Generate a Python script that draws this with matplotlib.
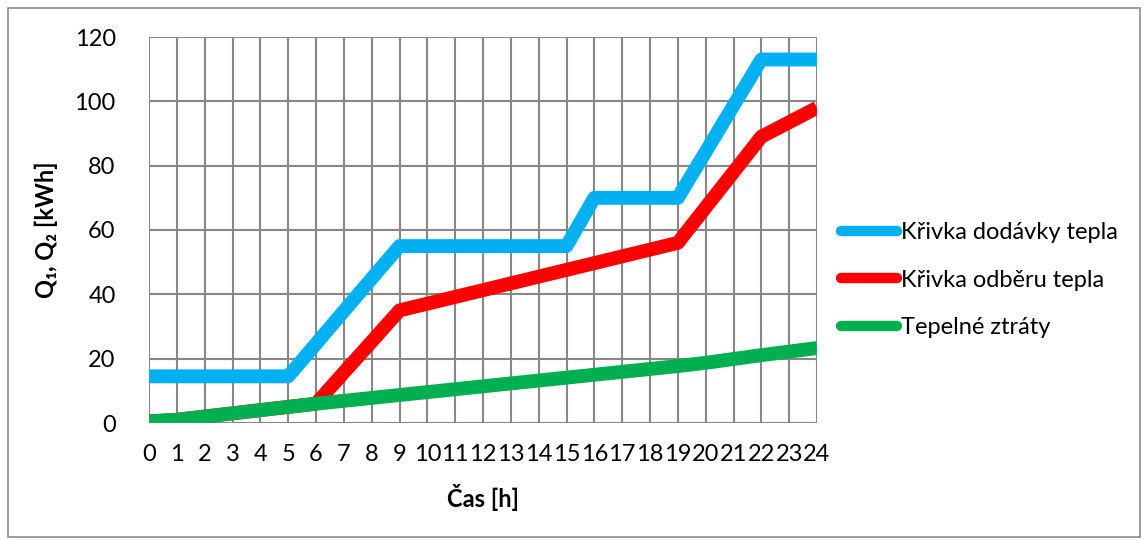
import matplotlib
matplotlib.use("Agg")
import matplotlib.pyplot as plt
from matplotlib.patches import Rectangle

plt.rcParams["font.family"] = ["Lato", "DejaVu Sans"]

hours = list(range(25))

# heat supply, heat demand and heat losses [kWh]
supply = [14.5, 14.5, 14.5, 14.5, 14.5, 14.5, 24.6, 34.8, 44.9, 55.0,
          55.0, 55.0, 55.0, 55.0, 55.0, 55.0, 70.0, 70.0, 70.0, 70.0,
          84.3, 98.7, 113.0, 113.0, 113.0]
demand = [0.5, 1.0, 2.0, 3.0, 4.0, 5.0, 6.0, 15.7, 25.3, 35.0,
          37.1, 39.2, 41.3, 43.4, 45.5, 47.6, 49.7, 51.8, 53.9, 56.0,
          67.0, 78.0, 89.0, 93.5, 98.0]
losses = [0.5, 1.0, 2.0, 3.0, 4.0, 5.0, 6.0, 6.9, 7.8, 8.7,
          9.6, 10.5, 11.4, 12.3, 13.2, 14.1, 15.0, 15.9, 16.8, 17.7,
          18.7, 19.9, 21.1, 22.2, 23.3]

labels = ["Křivka dodávky tepla", "Křivka odběru tepla", "Tepelné ztráty"]
colors = ["#00b0f0", "#ff0000", "#00b050"]

fs = 17

fig = plt.figure(figsize=(11.43, 5.40), dpi=100)
ax = fig.add_axes([149 / 1143, 1 - 423 / 540, (817 - 149) / 1143, (423 - 37) / 540])

for series, label, color in zip([supply, demand, losses], labels, colors):
    ax.plot(hours, series, color=color, linewidth=10, label=label,
            solid_capstyle="butt", solid_joinstyle="round")

ax.set_xlim(0, 24)
ax.set_ylim(0, 120)
ax.set_xticks(hours)
ax.set_yticks(range(0, 121, 20))
ax.grid(True, color="#878787", linewidth=1.5)
ax.set_axisbelow(True)
for s in ax.spines.values():
    s.set_visible(False)
ax.tick_params(length=0, labelsize=fs, colors="black")
ax.tick_params(axis="x", pad=15)
ax.tick_params(axis="y", pad=24)

ax.set_xlabel("Čas [h]", fontsize=fs, fontweight="bold", labelpad=14)
ax.set_ylabel("Q₁, Q₂ [kWh]", fontsize=fs, fontweight="bold", labelpad=12)

leg = ax.legend(loc="center left", bbox_to_anchor=(1.0, 0.37), frameon=False,
                fontsize=fs, handlelength=2.4, handletextpad=0.15, labelspacing=1.12,
                borderaxespad=0.6)
for h in leg.get_lines():
    h.set_linewidth(7.5)
    h.set_solid_capstyle("round")

# outer chart border
fig.patches.append(Rectangle((8 / 1143, 3 / 540), 1132 / 1143, 529 / 540,
                             transform=fig.transFigure, fill=False,
                             edgecolor="#8c8c8c", linewidth=1.2))

fig.savefig("out.png", dpi=100)
